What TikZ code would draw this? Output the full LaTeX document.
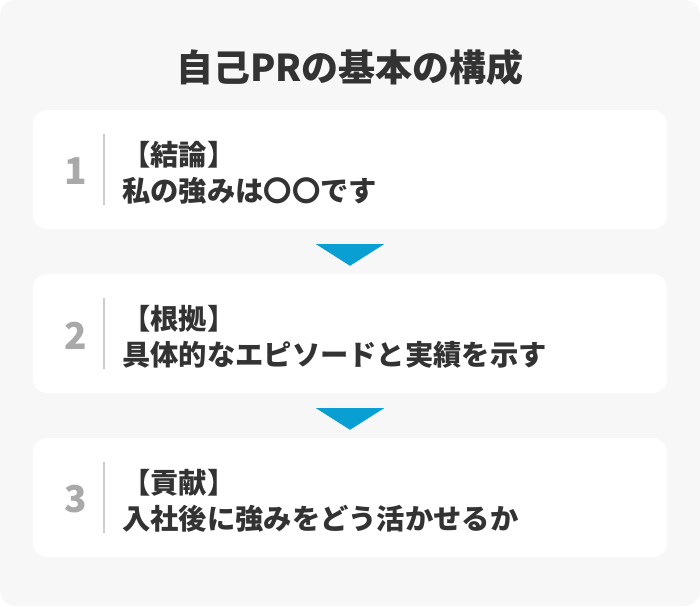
\documentclass[tikz,border=0pt]{standalone}
\usepackage{fontspec}
\setmainfont{Noto Sans CJK JP}
\usetikzlibrary{calc}
\definecolor{bgc}{HTML}{F7F7F8}
\definecolor{txt}{HTML}{333333}
\definecolor{numc}{HTML}{A9A9A9}
\definecolor{sepc}{HTML}{CCCCCC}
\definecolor{arr}{HTML}{0A9FD3}
\tikzset{
  titlestyle/.style={inner sep=0pt, text=txt, font=\fontsize{37}{44}\selectfont\bfseries},
  boxstyle/.style={fill=white, draw=none, rounded corners=14pt, minimum width=634pt, minimum height=119pt, inner sep=0pt},
  numstyle/.style={inner sep=0pt, text=numc, font=\fontsize{37}{40}\selectfont\bfseries},
  linestyle/.style={inner sep=0pt, anchor=base west, text=txt, font=\fontsize{28.3}{34}\selectfont\bfseries},
  sepstyle/.style={draw=sepc, line width=1.5pt},
  arrowstyle/.style={fill=arr, draw=none}
}
\begin{document}
\begin{tikzpicture}[x=1pt,y=1pt]
\useasboundingbox (0,0) rectangle (700,-606);
\fill[white] (0,0) rectangle (700,-606);
\fill[bgc, rounded corners=16pt] (0,0) rectangle (700,-606);
\node[titlestyle] (title) at (350,-67) {自己PRの基本の構成};
\foreach \i/\c/\head/\body in {1/169.5/【結論】/私の強みは〇〇です, 2/333.5/【根拠】/具体的なエピソードと実績を示す, 3/497.5/【貢献】/入社後に強みをどう活かせるか}{
  \node[boxstyle] (b\i) at (350,-\c) {};
  \node[numstyle] (n\i) at (76,-\c-2) {\i};
  \coordinate (s\i a) at (104,-\c+35.5);
  \coordinate (s\i b) at (104,-\c-35.5);
  \draw[sepstyle] (s\i a) -- (s\i b);
  \node[linestyle] (h\i) at (122,-\c+4.5) {\head};
  \node[linestyle] (t\i) at (122,-\c-31.5) {\body};
}
\foreach \i/\j in {1/2, 2/3}{
  \fill[arrowstyle] ($(b\i.south)+(-34,-15)$) -- ($(b\i.south)+(34,-15)$) -- ($(b\j.north)+(0,8)$) -- cycle;
}
\end{tikzpicture}
\end{document}
